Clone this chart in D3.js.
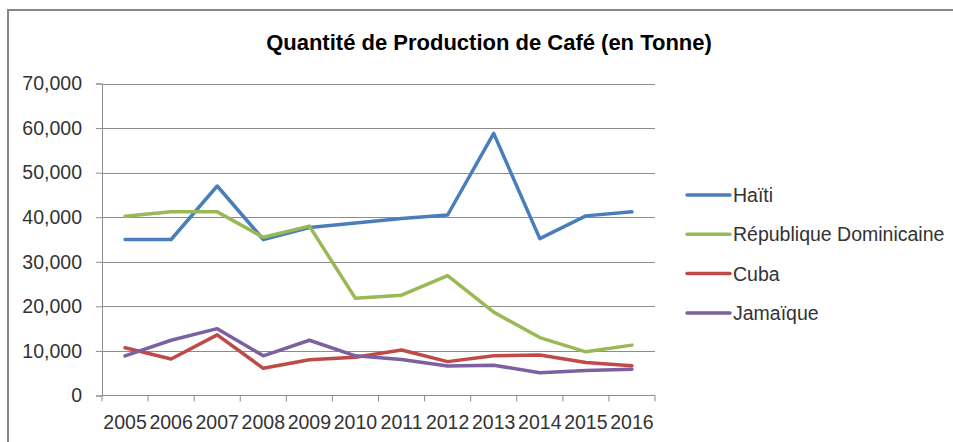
<!DOCTYPE html>
<html>
<head>
<meta charset="utf-8">
<script src="https://cdn.jsdelivr.net/npm/d3@7"></script>
<style>
  body { margin: 0; background: #fff; }
  text { font-family: "Liberation Sans", Arial, sans-serif; fill: #333; }
</style>
</head>
<body>
<svg width="953" height="442"></svg>
<script>
// years on the x axis
var years = ['2005','2006','2007','2008','2009','2010','2011','2012','2013','2014','2015','2016'];

// production, tonnes
var haiti    = [35000, 35000, 47000, 35000, 37700, 38700, 39700, 40500, 58800, 35200, 40300, 41200];
var repDom   = [40200, 41200, 41200, 35500, 38000, 21800, 22500, 26900, 18700, 13000, 9800, 11300];
var cuba     = [10700, 8200, 13600, 6100, 8000, 8600, 10200, 7600, 8900, 9100, 7400, 6700];
var jamaique = [8900, 12400, 15000, 8900, 12400, 8900, 8100, 6600, 6800, 5100, 5600, 5900];

var seriesNames = ['Haïti', 'République Dominicaine', 'Cuba', 'Jamaïque'];
var yTicks = [0, 10000, 20000, 30000, 40000, 50000, 60000, 70000];

var series = [
    { name: seriesNames[0], values: haiti,    color: '#4a7ebb' },
    { name: seriesNames[1], values: repDom,   color: '#98b954' },
    { name: seriesNames[2], values: cuba,     color: '#be4b48' },
    { name: seriesNames[3], values: jamaique, color: '#7d60a0' }
];

var svg = d3.select('svg');
var fontSize = '19.5px';

// outer frame
svg.append('rect')
    .attr('x', 8).attr('y', 10)
    .attr('width', 950).attr('height', 440)
    .attr('fill', 'none')
    .attr('stroke', '#868686')
    .attr('stroke-width', 2);

// title
svg.append('text')
    .attr('x', 489).attr('y', 50)
    .attr('text-anchor', 'middle')
    .style('font-size', '22px')
    .style('font-weight', 'bold')
    .style('fill', '#000')
    .text('Quantité de Production de Café (en Tonne)');

var plotL = 102, plotR = 655, plotT = 83.5, plotB = 395.5;

var x = d3.scaleBand()
    .domain(years)
    .range([plotL, plotR]);

var y = d3.scaleLinear()
    .domain([0, 70000])
    .range([plotB, plotT]);

// horizontal gridlines
svg.append('g')
    .selectAll('line')
    .data(yTicks.slice(1))
    .enter().append('line')
    .attr('x1', plotL).attr('x2', plotR)
    .attr('y1', function (d) { return Math.round(y(d)) + 0.5; })
    .attr('y2', function (d) { return Math.round(y(d)) + 0.5; })
    .attr('stroke', '#8c8c8c')
    .attr('stroke-width', 1);

// y axis
var yAxis = d3.axisLeft(y)
    .tickValues(yTicks)
    .tickSize(6)
    .tickPadding(14)
    .tickFormat(d3.format(','));

var gy = svg.append('g')
    .attr('transform', 'translate(' + plotL + ',0)')
    .call(yAxis);
gy.selectAll('line, path').attr('stroke', '#8c8c8c');
gy.selectAll('text')
    .attr('font-size', null).attr('font-family', null)
    .style('font-size', fontSize)
    .attr('fill', '#333');
gy.attr('font-size', null).attr('font-family', null);

// x axis, ticks on the category boundaries
var gx = svg.append('g')
    .attr('transform', 'translate(0,' + plotB + ')');
gx.append('line')
    .attr('x1', plotL).attr('x2', plotR)
    .attr('stroke', '#8c8c8c');
gx.selectAll('.tk')
    .data(years.concat(['end']))
    .enter().append('line')
    .attr('class', 'tk')
    .attr('x1', function (d, i) { return plotL + i * x.step(); })
    .attr('x2', function (d, i) { return plotL + i * x.step(); })
    .attr('y1', 0).attr('y2', 6)
    .attr('stroke', '#8c8c8c');
gx.selectAll('.lbl')
    .data(years)
    .enter().append('text')
    .attr('class', 'lbl')
    .attr('x', function (d) { return x(d) + x.bandwidth() / 2; })
    .attr('y', 33)
    .attr('text-anchor', 'middle')
    .style('font-size', fontSize)
    .text(function (d) { return d; });

// lines
var line = d3.line()
    .x(function (d, i) { return x(years[i]) + x.bandwidth() / 2; })
    .y(function (d) { return y(d); });

svg.append('g')
    .selectAll('path')
    .data(series)
    .enter().append('path')
    .attr('d', function (d) { return line(d.values); })
    .attr('fill', 'none')
    .attr('stroke', function (d) { return d.color; })
    .attr('stroke-width', 3.5)
    .attr('stroke-linejoin', 'round')
    .attr('stroke-linecap', 'round');

// legend
var legend = svg.append('g')
    .selectAll('g')
    .data(series)
    .enter().append('g')
    .attr('transform', function (d, i) { return 'translate(687,' + (195 + i * 39.3) + ')'; });

legend.append('line')
    .attr('x1', 0).attr('x2', 43)
    .attr('stroke', function (d) { return d.color; })
    .attr('stroke-width', 3.5)
    .attr('stroke-linecap', 'round');

legend.append('text')
    .attr('x', 46).attr('y', 7)
    .style('font-size', fontSize)
    .text(function (d) { return d.name; });
</script>
</body>
</html>
